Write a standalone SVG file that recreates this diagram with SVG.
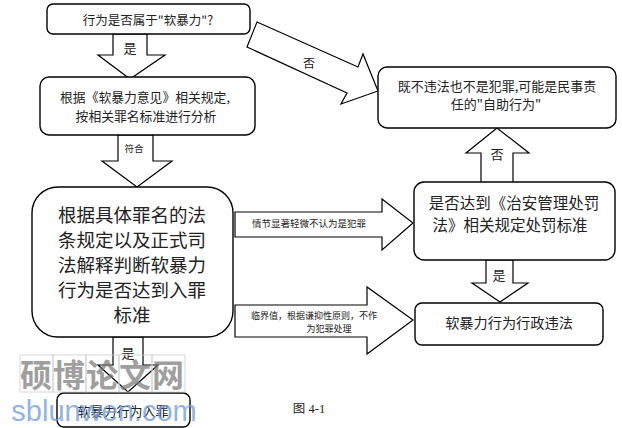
<svg xmlns="http://www.w3.org/2000/svg" width="622" height="428" viewBox="0 0 622 428">
<style>
.box{fill:#fff;stroke:#000;stroke-width:1.4}
.arr{fill:#fff;stroke:#000;stroke-width:1.2;stroke-linejoin:miter}
.t{font-family:"Noto Sans CJK SC","Liberation Sans",sans-serif;fill:#222;text-anchor:middle;dominant-baseline:central}
.wm{font-family:"Noto Sans CJK SC",sans-serif;fill:#777;opacity:0.7;text-anchor:middle;dominant-baseline:central;font-weight:bold}
</style>
<rect width="622" height="428" fill="#fff"/>
<g id="connectors">
<polygon class="arr" points="113,34 113,55 98,55 130,79 165,55 147,55 147,34"/>
<text class="t" x="130" y="47" font-size="13">是</text>
<polygon class="arr" points="118,135 118,161 102,161 137,187 172,161 153,161 153,135"/>
<text class="t" x="134" y="148" font-size="9.5">符合</text>
<polygon class="arr" points="257,22 358,67 363,54 378,91 341,104 347,93 247,47"/>
<text class="t" x="309" y="62" font-size="12">否</text>
<polygon class="arr" points="481,183 481,153 466,153 497,128 529,153 513,153 513,183"/>
<text class="t" x="497" y="153" font-size="13">否</text>
<polygon class="arr" points="486,260 486,283 472,283 500,302 528,283 513,283 513,260"/>
<text class="t" x="499" y="274" font-size="13">是</text>
<polygon class="arr" points="235,212 382,212 382,199 413,223 382,250 382,237 235,237"/>
<text class="t" x="309" y="223" font-size="9.5">情节显著轻微不认为是犯罪</text>
<polygon class="arr" points="235,305 367,305 367,287 413,320 367,354 367,337 235,337"/>
<text class="t" x="314" y="315" font-size="9">临界值，根据谦抑性原则，不作</text>
<text class="t" x="329" y="328" font-size="9">为犯罪处理</text>
<polygon class="arr" points="113,337 113,365 98,365 128,392 158,365 143,365 143,337"/>
<text class="t" x="128" y="352" font-size="13">是</text>
</g>
<g id="n1">
<rect class="box" x="47" y="4" width="203" height="30" rx="6"/>
<text class="t" x="148" y="19" font-size="12.5">行为是否属于"软暴力"?</text>
</g>
<g id="n2">
<rect class="box" x="40" y="77" width="215" height="58" rx="9"/>
<text class="t" x="145" y="96" font-size="12.8">根据《软暴力意见》相关规定,</text>
<text class="t" x="146" y="115" font-size="12.8">按相关罪名标准进行分析</text>
</g>
<g id="n3">
<rect class="box" x="32" y="187" width="201" height="150" rx="26"/>
<text class="t" x="132" y="214" font-size="18.5">根据具体罪名的法</text>
<text class="t" x="132" y="239" font-size="18.5">条规定以及正式司</text>
<text class="t" x="132" y="264" font-size="18.5">法解释判断软暴力</text>
<text class="t" x="132" y="289" font-size="18.5">行为是否达到入罪</text>
<text class="t" x="132" y="314" font-size="18.5">标准</text>
</g>
<g id="n4">
<rect class="box" x="378" y="67" width="238" height="61" rx="9"/>
<text class="t" x="497" y="85" font-size="13">既不违法也不是犯罪,可能是民事责</text>
<text class="t" x="496" y="103" font-size="13">任的"自助行为"</text>
</g>
<g id="n5">
<rect class="box" x="414" y="182" width="201" height="78" rx="10"/>
<text class="t" x="514" y="202" font-size="15.5">是否达到《治安管理处罚</text>
<text class="t" x="510" y="224" font-size="15.5">法》相关规定处罚标准</text>
</g>
<g id="n6">
<rect class="box" x="415" y="303" width="188" height="42" rx="7"/>
<text class="t" x="509" y="322" font-size="14.2">软暴力行为行政违法</text>
</g>
<g id="n7">
<rect class="box" x="57" y="393" width="133" height="34" rx="7"/>
<text class="t" x="123" y="410" font-size="13">软暴力行为入罪</text>
</g>
<text x="309" y="409" font-family="Liberation Serif,'Noto Sans CJK SC',serif" font-size="12.5" fill="#222" text-anchor="middle" dominant-baseline="central">图 4-1</text>
<g id="watermark">
<g fill="none" stroke="#ccc" stroke-width="0.8">
<rect x="20" y="355" width="33" height="37"/>
<rect x="53" y="355" width="33" height="37"/>
<rect x="86" y="355" width="33" height="37"/>
<rect x="119" y="355" width="33" height="37"/>
<rect x="152" y="355" width="33" height="37"/>
</g>
<text class="wm" x="36" y="373" font-size="32">硕</text>
<text class="wm" x="69" y="373" font-size="32">博</text>
<text class="wm" x="102" y="373" font-size="32">论</text>
<text class="wm" x="135" y="373" font-size="32">文</text>
<text class="wm" x="168" y="373" font-size="32">网</text>
<text x="104" y="421" font-family="Liberation Sans,sans-serif" font-size="29" fill="#6a9be0" opacity="0.75" text-anchor="middle">sblunwen.com</text>
</g>
</svg>
